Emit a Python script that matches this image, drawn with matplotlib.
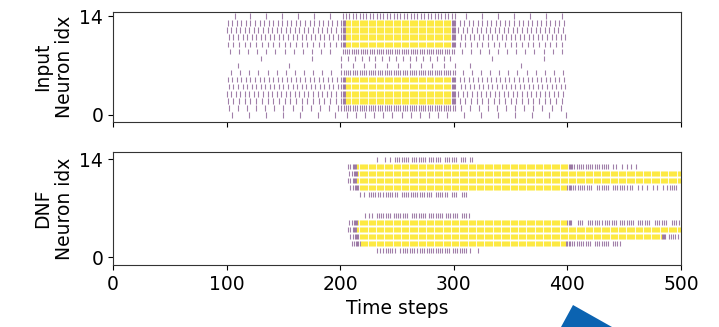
import matplotlib.pyplot as plt
import numpy as np
from matplotlib.patches import Polygon

num_steps = 500
num_neurons = 15

# input spike trains: interval (time steps) per neuron 0..14, 0 = silent
input_outer_interval = [15, 8, 5, 4, 4, 4, 8, 45, 45, 8, 5, 4, 4, 4, 14]   # 100-200 and 300-400
input_inner_interval = [8, 2, 1, 1, 1, 1, 2, 10, 6, 2, 1, 1, 1, 1, 3]      # 200-300
input_phase = [5, 2, 1, 0, 2, 1, 4, 10, 30, 3, 1, 2, 0, 1, 7]
input_windows = [(100, 199, "outer"), (201, 302, "inner"), (304, 400, "outer")]

# DNF spikes: (neuron, start, stop, interval)
dnf_bursts = [
    # upper bump
    (14, 232, 233, 1), (14, 239, 240, 1), (14, 244, 245, 1),
    (14, 248, 261, 2), (14, 263, 276, 2), (14, 278, 290, 2), (14, 292, 303, 2),
    (14, 306, 311, 2), (14, 314, 318, 2),
    (13, 207, 212, 2), (13, 212, 405, 1), (13, 406, 417, 2), (13, 418, 431, 2),
    (13, 432, 438, 2), (13, 440, 441, 1), (13, 443, 444, 1), (13, 448, 449, 1),
    (13, 452, 453, 1), (13, 456, 457, 1), (13, 460, 461, 1),
    (12, 208, 213, 2), (12, 213, 500, 1),
    (11, 207, 212, 2), (11, 212, 500, 1),
    (10, 209, 214, 2), (10, 214, 404, 1), (10, 405, 423, 2), (10, 426, 438, 2),
    (10, 440, 447, 2), (10, 448, 453, 2), (10, 455, 459, 2), (10, 462, 463, 1),
    (10, 466, 467, 1), (10, 470, 471, 1), (10, 475, 476, 1), (10, 479, 480, 1),
    (10, 484, 485, 1), (10, 488, 498, 2),
    (9, 217, 218, 1), (9, 221, 222, 1), (9, 225, 236, 2), (9, 238, 252, 2),
    (9, 254, 267, 2), (9, 268, 282, 2), (9, 284, 296, 2), (9, 298, 303, 2),
    (9, 307, 312, 2),
    # lower bump
    (6, 222, 223, 1), (6, 225, 226, 1), (6, 228, 229, 1), (6, 232, 245, 2),
    (6, 247, 261, 2), (6, 263, 277, 2), (6, 278, 292, 2), (6, 293, 305, 2),
    (6, 307, 314, 2),
    (5, 208, 213, 2), (5, 213, 404, 1), (5, 409, 415, 2), (5, 418, 431, 2),
    (5, 433, 444, 2), (5, 446, 459, 2), (5, 462, 474, 2), (5, 477, 489, 2),
    (5, 492, 500, 2),
    (4, 207, 212, 2), (4, 212, 500, 1),
    (3, 209, 214, 2), (3, 214, 487, 1), (3, 489, 498, 2),
    (2, 210, 215, 2), (2, 215, 403, 1), (2, 404, 421, 2), (2, 424, 438, 2),
    (2, 440, 443, 2), (2, 444, 445, 1), (2, 446, 447, 1),
    (1, 232, 233, 1), (1, 235, 236, 1), (1, 238, 250, 2), (1, 253, 267, 2),
    (1, 268, 283, 2), (1, 284, 298, 2), (1, 299, 312, 2), (1, 314, 315, 1),
    (1, 321, 322, 1),
]

window = 9


def input_spikes():
    s = np.zeros((num_neurons, num_steps), dtype=bool)
    for n in range(num_neurons):
        for start, stop, kind in input_windows:
            if kind == "outer":
                step = input_outer_interval[n]
                first = start + input_phase[n] % max(step, 1)
            else:
                step = input_inner_interval[n]
                first = start + (input_phase[n] % step if step > 1 else 0)
            if step == 0:
                continue
            s[n, first:stop:step] = True
    return s


def dnf_spikes():
    s = np.zeros((num_neurons, num_steps), dtype=bool)
    for n, start, stop, step in dnf_bursts:
        s[n, start:stop:step] = True
    return s


def rates(s):
    k = np.ones(window)
    norm = np.convolve(np.ones(num_steps), k, mode="same")
    r = np.zeros(s.shape)
    for n in range(num_neurons):
        r[n] = np.convolve(s[n].astype(float), k, mode="same") / norm
    return r


def raster(ax, s):
    r = rates(s)
    n, t = np.nonzero(s)
    c = r[n, t]
    order = np.argsort(c)
    cols = plt.cm.viridis(plt.Normalize(0.9, 1.0)(c[order]))
    # low-rate spikes look faint in the original
    cols[:, 3] = np.where(c[order] < 0.9, 0.5, 0.85)
    ax.scatter(t[order], n[order], c=cols, marker="|", s=16, linewidths=0.8)


plt.rcParams["font.size"] = 13.5

fig = plt.figure(figsize=(7.19, 3.27), dpi=100)
ax1 = fig.add_axes([0.1572, 0.6269, 0.790, 0.3364])
ax2 = fig.add_axes([0.1572, 0.1896, 0.790, 0.3465])

raster(ax1, input_spikes())
raster(ax2, dnf_spikes())

for ax in (ax1, ax2):
    ax.set_xlim(0, num_steps)
    ax.set_xticks([0, 100, 200, 300, 400, 500])
    ax.set_yticks([0, 14])
    for sp in ax.spines.values():
        sp.set_color("#333333")

ax1.set_ylim(-1.0, 14.57)
ax2.set_ylim(-1.1, 15.1)
ax1.set_xticklabels([])
ax1.set_ylabel("Input\nNeuron idx")
ax2.set_ylabel("DNF\nNeuron idx")
ax2.set_xlabel("Time steps")

# blue arrow tip at the lower edge
W, H = 719, 327
tri = [(573 / W, 1 - 305 / H), (561 / W, 0), (612 / W, 0)]
fig.patches.append(Polygon(tri, closed=True, transform=fig.transFigure,
                           facecolor="#0b63b1", edgecolor="none"))

fig.savefig("out.png", dpi=100)
